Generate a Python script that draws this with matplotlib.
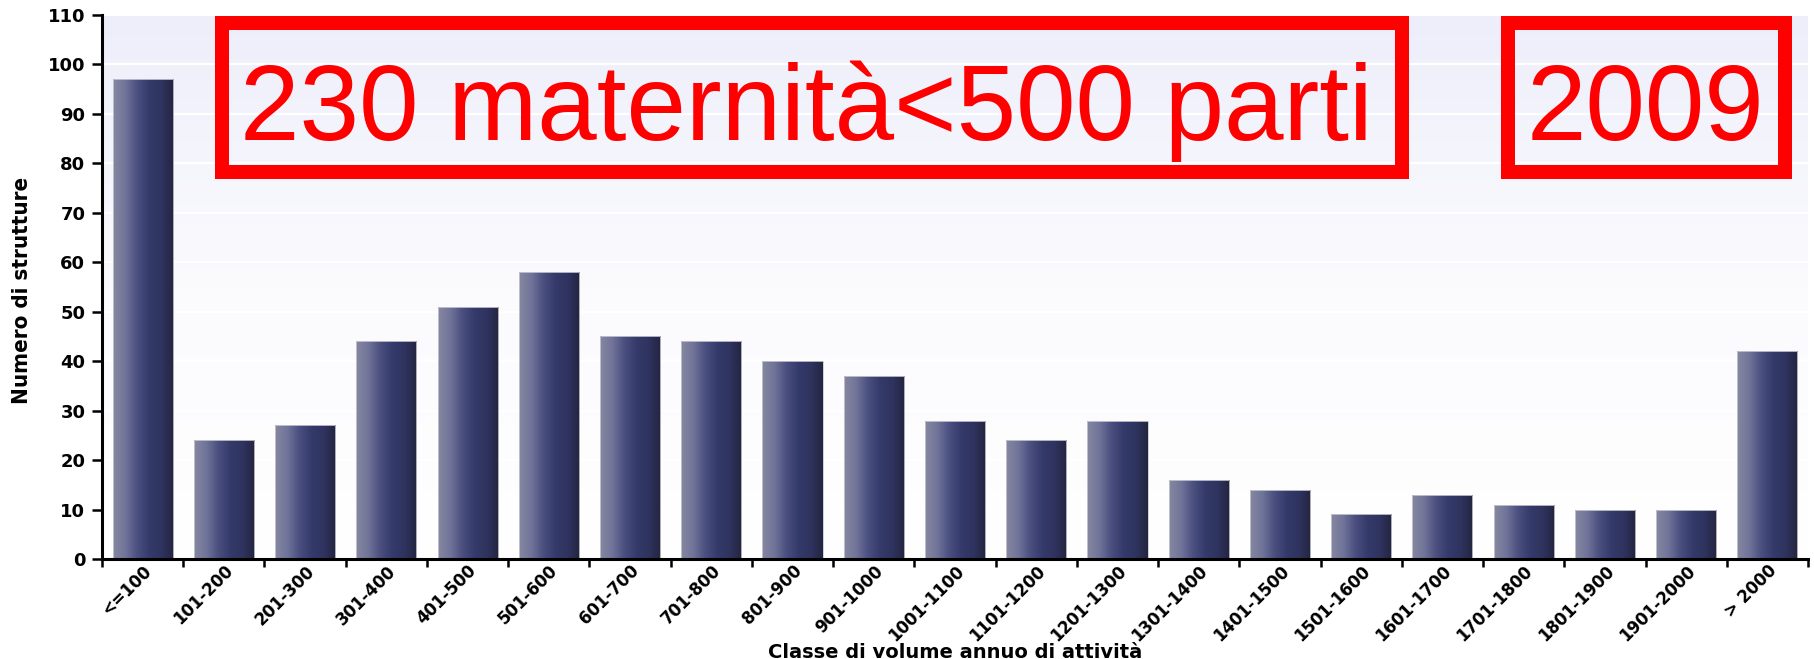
import matplotlib
matplotlib.use('Agg')
import matplotlib.pyplot as plt
from matplotlib.colors import LinearSegmentedColormap
from matplotlib.patches import Rectangle
import numpy as np

## dati: numero di strutture per classe di volume annuo
classi = ['<=100', '101-200', '201-300', '301-400', '401-500', '501-600', '601-700',
          '701-800', '801-900', '901-1000', '1001-1100', '1101-1200', '1201-1300',
          '1301-1400', '1401-1500', '1501-1600', '1601-1700', '1701-1800',
          '1801-1900', '1901-2000', '> 2000']
strutture = [97, 24, 27, 44, 51, 58, 45, 44, 40, 37, 28, 24, 28, 16, 14, 9, 13, 11, 10, 10, 42]
yTicks = [0, 10, 20, 30, 40, 50, 60, 70, 80, 90, 100, 110]

titolo = '230 maternità<500 parti'
anno = '2009'

W, H = 1814, 659
fig = plt.figure(figsize=(W / 100, H / 100), dpi=100)
axH = 559 - 15
ax = fig.add_axes([102 / W, 1 - 559 / H, (1808 - 102) / W, axH / H])

x = np.arange(len(classi))

# sfondo sfumato lavanda -> bianco
bgCmap = LinearSegmentedColormap.from_list('bg', ['#ffffff', '#fbfbfe', '#eeeefb'])
grad = np.linspace(0, 1, 256).reshape(-1, 1)
ax.imshow(grad, cmap=bgCmap, aspect='auto', origin='lower',
          extent=[-0.5, len(classi) - 0.5, 0, 110], zorder=0)
for yv in yTicks[1:]:
    ax.axhline(yv, color='white', lw=1.6, zorder=0.5)

# barre con gradiente orizzontale
barCmap = LinearSegmentedColormap.from_list('bar', ['#86889f', '#71749a', '#4a4f7f',
                                                    '#343a6a', '#2f335f', '#23253f'])
hgrad = np.linspace(0, 1, 256).reshape(1, -1)
bars = ax.bar(x, strutture, width=0.74, color='none', edgecolor='#c8c8d4', lw=0.6, zorder=2)
for b in bars:
    x0, w, h = b.get_x(), b.get_width(), b.get_height()
    im = ax.imshow(hgrad, cmap=barCmap, aspect='auto', extent=[x0, x0 + w, 0, h], zorder=1.5)
    im.set_clip_path(b)

ax.set_xlim(-0.5, len(classi) - 0.5)
ax.set_ylim(0, 110)

ax.spines['top'].set_visible(False)
ax.spines['right'].set_visible(False)
ax.spines['left'].set_linewidth(2.2)
ax.spines['bottom'].set_linewidth(2.2)

ax.set_yticks(yTicks)
ax.set_yticklabels([str(v) for v in yTicks], fontsize=13, fontweight='heavy')
ax.tick_params(axis='y', length=7, width=1.8, pad=5)

ax.set_xticks(x)
ax.set_xticklabels(classi, rotation=45, ha='right', rotation_mode='anchor',
                   fontsize=12, fontweight='heavy')
ax.tick_params(axis='x', which='major', length=0, pad=2)
ax.set_xticks(np.arange(-0.5, len(classi), 1), minor=True)
ax.tick_params(axis='x', which='minor', length=6, width=1.8)

ax.set_xlabel('Classe di volume annuo di attività', fontsize=14, fontweight='heavy')
ax.xaxis.set_label_coords(0.5, -(652 - 559) / axH)
ax.xaxis.label.set_va('center')
ax.set_ylabel('Numero di strutture', fontsize=16, fontweight='bold',
              family='DejaVu Sans', fontstretch='condensed')
ax.yaxis.set_label_coords(-80 / (1808 - 102), (559 - 290) / axH)
ax.yaxis.label.set_va('center')

# riquadri rossi
lw = 14 * 72 / 100
for (l, r) in [(215, 1409), (1501, 1792)]:
    rect = Rectangle(((l + 7) / W, 1 - 172 / H), (r - l - 14) / W, (172 - 23) / H,
                     transform=fig.transFigure, fill=False, edgecolor='#ff0000',
                     lw=lw, joinstyle='miter', zorder=10)
    fig.patches.append(rect)

fig.text(806 / W, 1 - 140 / H, titolo, color='#ff0000', fontsize=77,
         family='Liberation Sans', ha='center', va='baseline')
fig.text(1646 / W, 1 - 140 / H, anno, color='#ff0000', fontsize=77,
         family='Liberation Sans', ha='center', va='baseline')

fig.savefig('out.png', dpi=100, facecolor='white')
